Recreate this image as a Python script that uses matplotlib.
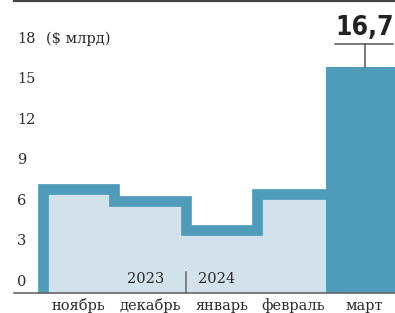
import numpy as np
import matplotlib
matplotlib.use('Agg')
import matplotlib.pyplot as plt

# data ($ bn)
months = ['ноябрь', 'декабрь', 'январь', 'февраль', 'март']
values = [7.7, 6.8, 4.67, 7.3, 16.7]
yticks = [0, 3, 6, 9, 12, 15, 18]
years = ['2023', '2024']
highlight_label = '16,7'

dark = '#4f9cba'
light = '#d3e2ea'
text_c = '#2b2b2b'
serif = ['DejaVu Serif']

fig = plt.figure(figsize=(3.95, 3.13), dpi=100)
ax = fig.add_axes([0, 0, 1, 1])
ax.set_xlim(-1.1007, 4.4238)
ax.set_ylim(-1.504, 21.68)
ax.axis('off')

# step part (first four months)
n = len(values) - 1
edges = np.arange(n + 1) - 0.5
vals = np.array(values[:n])
ax.fill_between(np.repeat(edges, 2)[1:-1], 0, np.repeat(vals, 2), color=light, lw=0, zorder=1)
xs = np.concatenate([[edges[0]], np.repeat(edges, 2)[1:-1], [edges[-1]]])
ys = np.concatenate([[0], np.repeat(vals, 2), [vals[-1]]])
ax.plot(xs, ys, color=dark, lw=7.7, solid_joinstyle='miter', solid_capstyle='butt', zorder=2)

# last month as a solid bar
ax.bar(n, values[-1], width=1.08, color=dark, zorder=3)

# value callout
ax.plot([n - 0.41, n + 0.4], [values[-1] + 1.73, values[-1] + 1.73], color='#555555', lw=1.1, zorder=4)
ax.plot([n, n], [values[-1], values[-1] + 1.73], color='#555555', lw=1.1, zorder=4)
ax.text(n, values[-1] + 1.95, highlight_label, ha='center', va='bottom', fontsize=19,
        fontweight='bold', fontstretch='condensed', color='#222222',
        family=['DejaVu Sans'])

# axis lines
ax.plot([-0.905, 4.5], [0, 0], color='#666666', lw=1.2, zorder=5, clip_on=False)
ax.plot([-0.905, 4.5], [21.64, 21.64], color='#444444', lw=1.6, zorder=5, clip_on=False)

# y labels
for t in yticks:
    ax.text(-0.863, t + 0.3, str(t), ha='left', va='bottom', fontsize=10.5,
            color=text_c, family=serif)
ax.text(-0.457, yticks[-1] + 0.3, '($ млрд)', ha='left', va='bottom', fontsize=10.5,
        color=text_c, family=serif)

# month labels
for i, m in enumerate(months):
    ax.text(i, -0.97, m, ha='center', va='center', fontsize=10.5, color=text_c, family=serif)

# year divider
ax.plot([1.5, 1.5], [0, 1.53], color='#666666', lw=1.1, zorder=5)
ax.text(1.2, 1.0, years[0], ha='right', va='center', fontsize=10.5, color=text_c, family=serif)
ax.text(1.67, 1.0, years[1], ha='left', va='center', fontsize=10.5, color=text_c, family=serif)

fig.savefig('out.png', dpi=100)
